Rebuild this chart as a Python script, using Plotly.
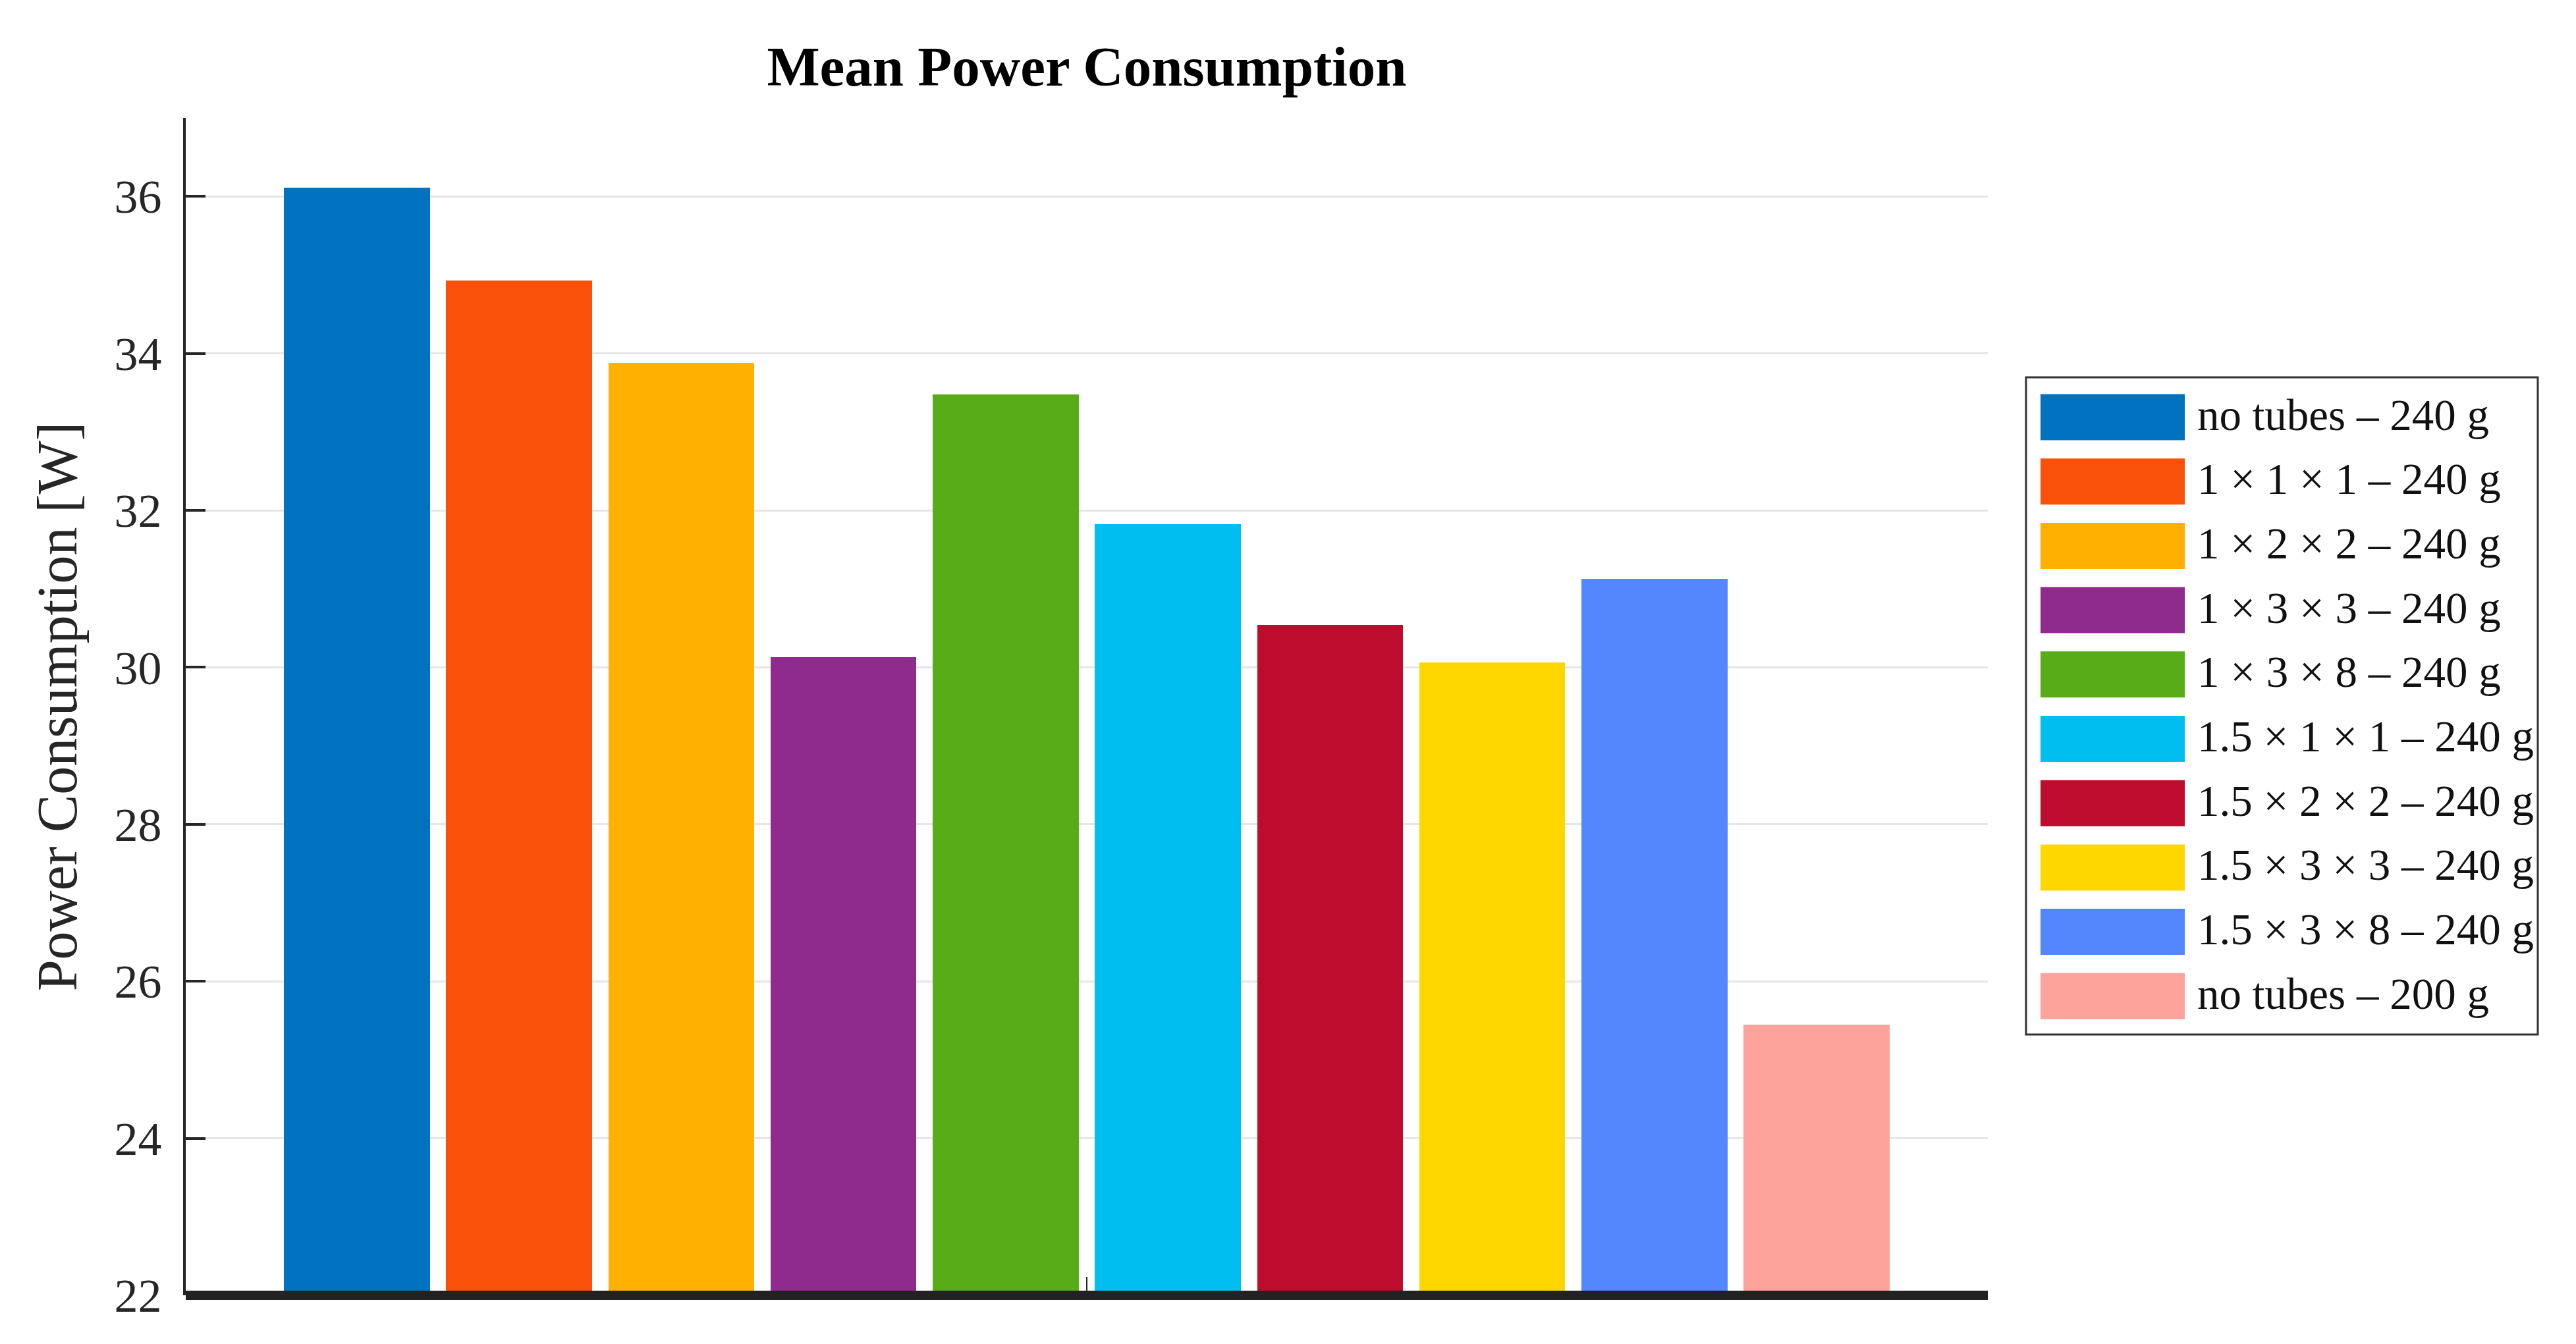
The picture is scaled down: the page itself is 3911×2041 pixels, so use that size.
import plotly.graph_objects as go

# ---- data ----
labels = [
    "no tubes \u2013 240 g",
    "1 \u00d7 1 \u00d7 1 \u2013 240 g",
    "1 \u00d7 2 \u00d7 2 \u2013 240 g",
    "1 \u00d7 3 \u00d7 3 \u2013 240 g",
    "1 \u00d7 3 \u00d7 8 \u2013 240 g",
    "1.5 \u00d7 1 \u00d7 1 \u2013 240 g",
    "1.5 \u00d7 2 \u00d7 2 \u2013 240 g",
    "1.5 \u00d7 3 \u00d7 3 \u2013 240 g",
    "1.5 \u00d7 3 \u00d7 8 \u2013 240 g",
    "no tubes \u2013 200 g",
]
power_w = [36.11, 34.93, 33.88, 30.13, 33.48, 31.82, 30.54, 30.06, 31.13, 25.45]
colors = ["#0072BF", "#F9510A", "#FFB000", "#902B8E", "#57AC18",
          "#00BEEF", "#BE0C2E", "#FED700", "#5486FE", "#FEA39B"]
y_ticks = [22, 24, 26, 28, 30, 32, 34, 36]

# ---- geometry (pixels) ----
W, H = 3911, 2041
L, R, T, B = 282, 3018, 179, 1967
SERIF = "Liberation Serif, Times New Roman, serif"
DARK = "#262626"


def px_x(p):
    return (p - L) / (R - L)


def px_y(p):
    return (B - p) / (B - T)


positions = list(range(len(power_w)))

fig = go.Figure()
fig.add_trace(go.Bar(
    x=positions, y=power_w, width=0.9,
    marker=dict(color=colors, line=dict(width=0)),
    showlegend=False,
    hovertext=labels,
))

shapes = []
annotations = []

# thick bottom baseline (paper-referenced so it is not clipped)
shapes.append(dict(type="line", xref="paper", yref="paper", x0=0, x1=1, y0=0, y1=0,
                   line=dict(color="#222222", width=14), layer="above"))

# manual legend
box_l, box_r, box_t, box_b = 3076, 3853, 573, 1571
shapes.append(dict(type="rect", xref="paper", yref="paper",
                   x0=px_x(box_l), x1=px_x(box_r), y0=px_y(box_b), y1=px_y(box_t),
                   line=dict(color="#333333", width=3), fillcolor="white", layer="above"))
row0, row_step, sw_h = 633.5, 97.7, 70
sw_l, sw_r, txt_x = 3098, 3317, 3334
for i, (lab, col) in enumerate(zip(labels, colors)):
    cy = row0 + i * row_step
    shapes.append(dict(type="rect", xref="paper", yref="paper",
                       x0=px_x(sw_l), x1=px_x(sw_r),
                       y0=px_y(cy + sw_h / 2), y1=px_y(cy - sw_h / 2),
                       line=dict(width=0), fillcolor=col, layer="above"))
    annotations.append(dict(xref="paper", yref="paper", x=px_x(txt_x), y=px_y(cy - 4),
                            xanchor="left", yanchor="middle", showarrow=False,
                            text=lab, font=dict(family=SERIF, size=67, color="#111111")))

fig.update_layout(
    width=W, height=H,
    margin=dict(l=L, r=W - R, t=T, b=H - B, pad=0),
    paper_bgcolor="white", plot_bgcolor="white",
    title=dict(text="<b>Mean Power Consumption</b>", x=(L + R) / 2 / W, xanchor="center",
               xref="container", yref="container", y=1 - 100 / H, yanchor="middle",
               font=dict(family=SERIF, size=85, color="#000000")),
    xaxis=dict(range=[-1.056, 10.056], showgrid=False, zeroline=False, showline=False,
               tickmode="array", tickvals=[4.5], ticktext=[""], ticks="inside",
               ticklen=28, tickwidth=2, tickcolor=DARK),
    yaxis=dict(range=[22, 37], tickmode="array", tickvals=y_ticks,
               showgrid=True, gridcolor="#E6E6E6", gridwidth=3, zeroline=False,
               showline=True, linewidth=4, linecolor=DARK,
               ticks="inside", ticklen=30, tickwidth=4, tickcolor=DARK,
               ticklabelstandoff=18,
               tickfont=dict(family=SERIF, size=72, color=DARK),
               title=dict(text="Power Consumption [W]", standoff=29,
                          font=dict(family=SERIF, size=86, color=DARK))),
    shapes=shapes,
    annotations=annotations,
    bargap=0,
)

fig.write_html("out.html",
               config={"displayModeBar": False},
               post_script="document.body.style.margin='0';document.body.style.overflow='hidden';")
